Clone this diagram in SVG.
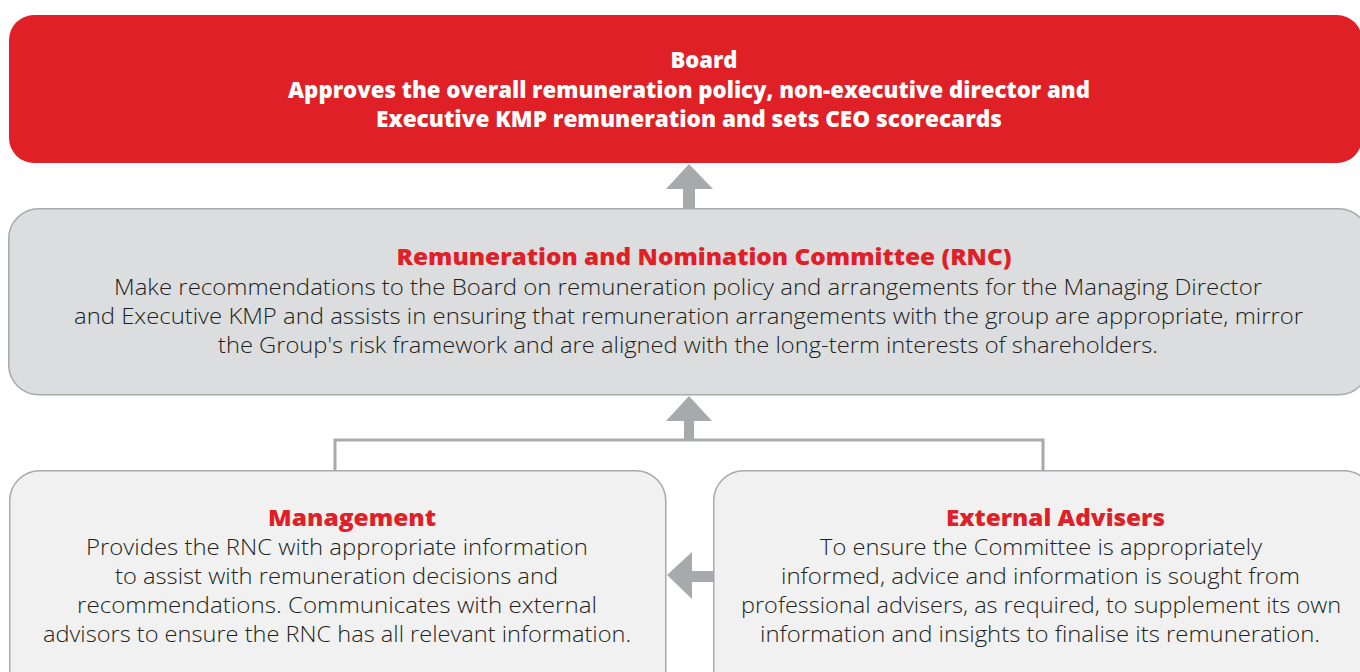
<svg xmlns="http://www.w3.org/2000/svg" width="1360" height="672" viewBox="0 0 1360 672">
<style>
.title{font-family:"Open Sans","Liberation Sans",sans-serif;font-weight:800;font-size:22px;text-anchor:middle}
.red{fill:#E02027}
.white{fill:#FFFFFF}
.body{font-family:"Open Sans","Liberation Sans",sans-serif;font-weight:300;font-size:21.5px;fill:#231F20;text-anchor:middle}
.box{stroke:#A7A9AC;stroke-width:1.5}
.arrow{fill:#A7A9AC}
</style>
<rect width="1360" height="672" fill="#FFFFFF"/>
<g id="board">
<rect x="9" y="15" width="1353" height="148" rx="25" fill="#E02027"/>
<text class="title white" x="704" y="68">Board</text>
<text class="title white" x="689" y="98" textLength="802" lengthAdjust="spacingAndGlyphs">Approves the overall remuneration policy, non-executive director and</text>
<text class="title white" x="689" y="127" textLength="626" lengthAdjust="spacingAndGlyphs">Executive KMP remuneration and sets CEO scorecards</text>
</g>
<g id="rnc">
<rect class="box" x="8.75" y="208.75" width="1360" height="186" rx="30" fill="#DCDDDE"/>
<text class="title red" x="704" y="265" textLength="615" lengthAdjust="spacingAndGlyphs">Remuneration and Nomination Committee (RNC)</text>
<text class="body" x="688" y="295" textLength="1148" lengthAdjust="spacingAndGlyphs">Make recommendations to the Board on remuneration policy and arrangements for the Managing Director</text>
<text class="body" x="688.5" y="324" textLength="1229" lengthAdjust="spacingAndGlyphs">and Executive KMP and assists in ensuring that remuneration arrangements with the group are appropriate, mirror</text>
<text class="body" x="688" y="353" textLength="940" lengthAdjust="spacingAndGlyphs">the Group's risk framework and are aligned with the long-term interests of shareholders.</text>
</g>
<g id="management">
<rect class="box" x="9.75" y="470.75" width="656" height="230" rx="30" fill="#F1F1F1"/>
<text class="title red" x="352" y="526" textLength="168" lengthAdjust="spacingAndGlyphs">Management</text>
<text class="body" x="337" y="555" textLength="502" lengthAdjust="spacingAndGlyphs">Provides the RNC with appropriate information</text>
<text class="body" x="336.5" y="584" textLength="443" lengthAdjust="spacingAndGlyphs">to assist with remuneration decisions and</text>
<text class="body" x="337" y="613" textLength="520" lengthAdjust="spacingAndGlyphs">recommendations. Communicates with external</text>
<text class="body" x="337" y="642" textLength="588" lengthAdjust="spacingAndGlyphs">advisors to ensure the RNC has all relevant information.</text>
</g>
<g id="external-advisers">
<rect class="box" x="713.75" y="470.75" width="660" height="230" rx="30" fill="#F1F1F1"/>
<text class="title red" x="1055.5" y="526" textLength="219" lengthAdjust="spacingAndGlyphs">External Advisers</text>
<text class="body" x="1041" y="555" textLength="442" lengthAdjust="spacingAndGlyphs">To ensure the Committee is appropriately</text>
<text class="body" x="1040.5" y="584" textLength="519" lengthAdjust="spacingAndGlyphs">informed, advice and information is sought from</text>
<text class="body" x="1041" y="613" textLength="600" lengthAdjust="spacingAndGlyphs">professional advisers, as required, to supplement its own</text>
<text class="body" x="1040" y="642" textLength="560" lengthAdjust="spacingAndGlyphs">information and insights to finalise its remuneration.</text>
</g>
<g id="connectors">
<polygon class="arrow" points="689,164 713,189 695,189 695,208 683,208 683,189 666,189"/>
<polyline points="335,470 335,440 1043,440 1043,470" fill="none" stroke="#A7A9AC" stroke-width="3"/>
<polygon class="arrow" points="689,396 712,421 694,421 694,441 684,441 684,421 666,421"/>
<polygon class="arrow" points="667,575 692,552 692,571 713,571 713,582 692,582 692,599"/>
</g>
</svg>
